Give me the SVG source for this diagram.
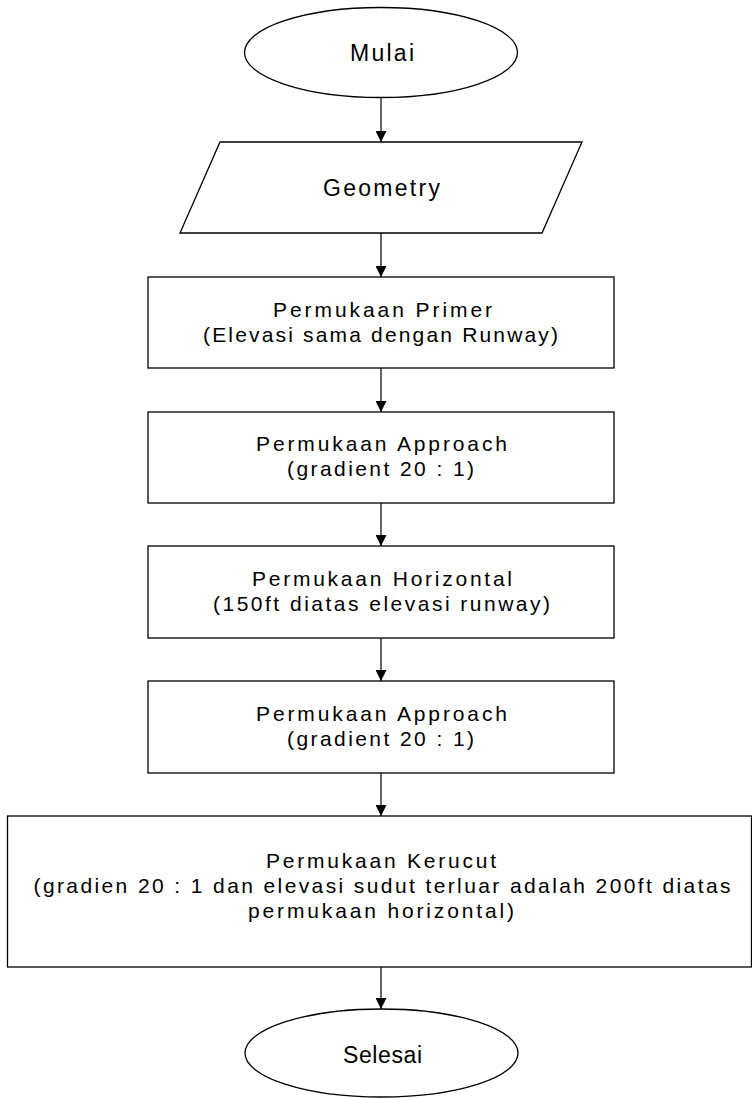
<svg xmlns="http://www.w3.org/2000/svg" width="752" height="1098" viewBox="0 0 752 1098">
<style>
.shape{fill:#ffffff;stroke:#000000;stroke-width:1.3}
.t{font-family:"Liberation Sans",Arial,sans-serif;font-size:21px;fill:#000000;text-anchor:middle}
.tl{font-family:"Liberation Sans",Arial,sans-serif;font-size:23px;fill:#000000;text-anchor:middle}
.c{stroke:#000000;stroke-width:1.2;fill:none;marker-end:url(#arr)}
</style>
<defs>
<marker id="arr" markerUnits="userSpaceOnUse" markerWidth="11" markerHeight="11" refX="11" refY="5.5" orient="auto">
<path d="M0,0 L11,5.5 L0,11 z" fill="#000000"/>
</marker>
</defs>
<rect width="752" height="1098" fill="#ffffff"/>
<g id="connectors">
<line class="c" x1="381" y1="97.5" x2="381" y2="142"/>
<line class="c" x1="381" y1="233" x2="381" y2="277"/>
<line class="c" x1="381" y1="368" x2="381" y2="412"/>
<line class="c" x1="381" y1="503" x2="381" y2="546"/>
<line class="c" x1="381" y1="638" x2="381" y2="681"/>
<line class="c" x1="381" y1="773" x2="381" y2="816"/>
<line class="c" x1="381" y1="967" x2="381" y2="1009"/>
</g>
<g id="mulai">
<ellipse class="shape" cx="381" cy="52.5" rx="136.5" ry="45"/>
<text class="tl" x="382" y="61" textLength="64" lengthAdjust="spacing">Mulai</text>
</g>
<g id="geometry">
<polygon class="shape" points="220,142 582,142 542,233 180,233"/>
<text class="tl" x="381.5" y="196" textLength="117" lengthAdjust="spacing">Geometry</text>
</g>
<g id="primer">
<rect class="shape" x="148" y="277" width="466" height="91"/>
<text class="t" x="382.5" y="317" textLength="219" lengthAdjust="spacing">Permukaan Primer</text>
<text class="t" x="380.5" y="342" textLength="355" lengthAdjust="spacing">(Elevasi sama dengan Runway)</text>
</g>
<g id="approach1">
<rect class="shape" x="148" y="412" width="466" height="91"/>
<text class="t" x="381.5" y="451" textLength="251" lengthAdjust="spacing">Permukaan Approach</text>
<text class="t" x="380.5" y="476" textLength="187" lengthAdjust="spacing">(gradient 20 : 1)</text>
</g>
<g id="horizontal">
<rect class="shape" x="148" y="546" width="466" height="92"/>
<text class="t" x="382" y="586" textLength="260" lengthAdjust="spacing">Permukaan Horizontal</text>
<text class="t" x="381.5" y="611" textLength="337" lengthAdjust="spacing">(150ft diatas elevasi runway)</text>
</g>
<g id="approach2">
<rect class="shape" x="148" y="681" width="466" height="92"/>
<text class="t" x="381.5" y="721" textLength="251" lengthAdjust="spacing">Permukaan Approach</text>
<text class="t" x="380.5" y="746" textLength="187" lengthAdjust="spacing">(gradient 20 : 1)</text>
</g>
<g id="kerucut">
<rect class="shape" x="7.5" y="816" width="744" height="151"/>
<text class="t" x="381" y="868" textLength="230" lengthAdjust="spacing">Permukaan Kerucut</text>
<text class="t" x="382" y="893" textLength="697" lengthAdjust="spacing">(gradien 20 : 1 dan elevasi sudut terluar adalah 200ft diatas</text>
<text class="t" x="381" y="918" textLength="266" lengthAdjust="spacing">permukaan horizontal)</text>
</g>
<g id="selesai">
<ellipse class="shape" cx="381.5" cy="1053" rx="136.5" ry="44"/>
<text class="tl" x="382.5" y="1063" textLength="79" lengthAdjust="spacing">Selesai</text>
</g>
</svg>
